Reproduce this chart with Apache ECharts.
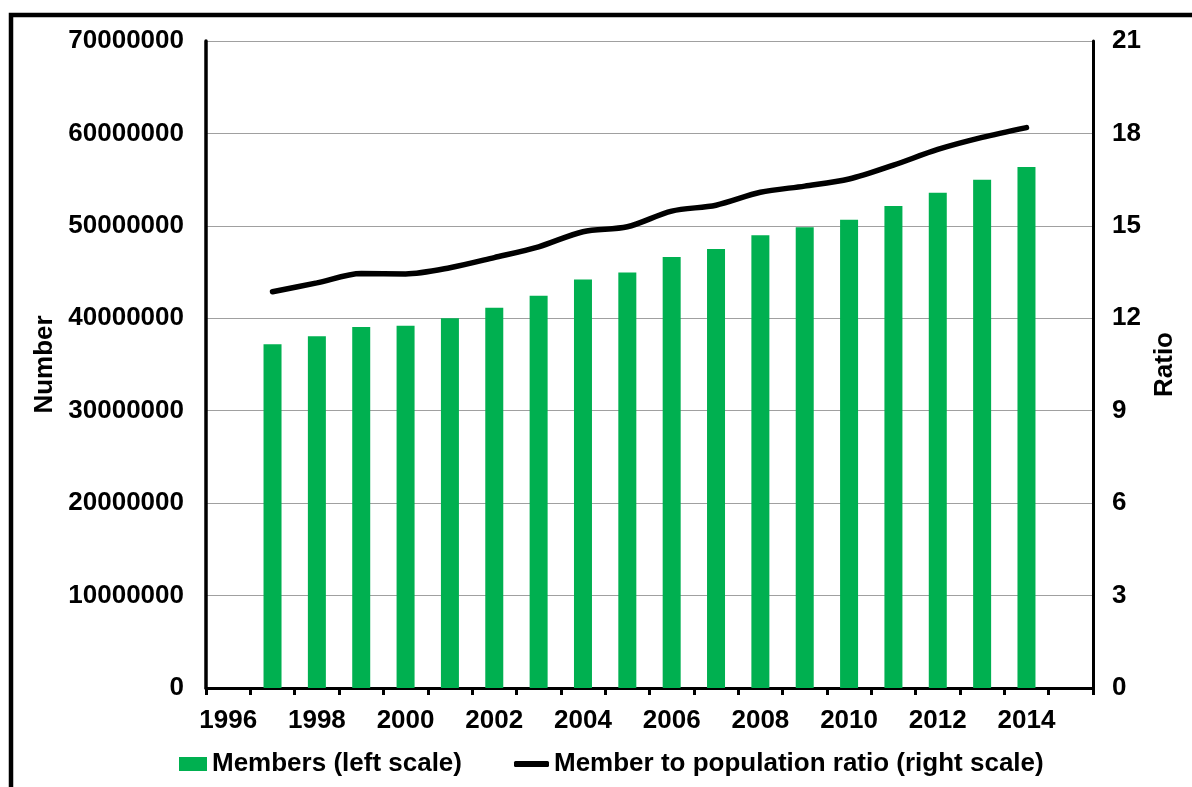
<!DOCTYPE html>
<html>
<head>
<meta charset="utf-8">
<script src="https://cdn.jsdelivr.net/npm/echarts@6/dist/echarts.min.js"></script>
<style>
  html, body { margin: 0; padding: 0; background: #fff; }
  #chart { width: 1192px; height: 787px; }
</style>
</head>
<body>
<div id="chart"></div>
<script>
// Category years on the x axis (one slot per year, labels on even years)
const years = ['1996','1997','1998','1999','2000','2001','2002','2003','2004','2005',
               '2006','2007','2008','2009','2010','2011','2012','2013','2014','2015'];

// Years that have observations
const dataYears = ['1997','1998','1999','2000','2001','2002','2003','2004','2005',
                   '2006','2007','2008','2009','2010','2011','2012','2013','2014'];

// Members (left scale)
const members = [37200000, 38050000, 39050000, 39200000, 40000000, 41150000, 42450000,
                 44200000, 44950000, 46630000, 47500000, 48980000, 49840000, 50670000,
                 52150000, 53590000, 54990000, 56370000];

// Member to population ratio (right scale)
const ratio = [12.86, 13.15, 13.45, 13.44, 13.64, 13.97, 14.32, 14.81, 14.97,
               15.48, 15.67, 16.09, 16.29, 16.52, 16.97, 17.48, 17.87, 18.19];

const FONT = 'Liberation Sans, Arial, sans-serif';
const textBase = { fontFamily: FONT, fontWeight: 'bold', fontSize: 26, color: '#000' };

const chart = echarts.init(document.getElementById('chart'), null, { renderer: 'canvas' });

chart.setOption({
  backgroundColor: '#fff',
  animation: false,
  graphic: [{
    type: 'rect',
    silent: true,
    shape: { x: 11, y: 15, width: 1300, height: 900 },
    style: { fill: 'none', stroke: '#000', lineWidth: 4.5 }
  }],
  grid: { left: 206, right: 99, top: 41, bottom: 99, containLabel: false },
  legend: [{
    data: ['Members (left scale)'],
    left: 179, top: 751, padding: 0,
    icon: 'rect', itemWidth: 28, itemHeight: 14,
    textStyle: textBase,
    selectedMode: false
  }, {
    data: ['Member to population ratio (right scale)'],
    left: 514, top: 751, padding: 0,
    icon: 'roundRect', itemWidth: 35, itemHeight: 6,
    textStyle: textBase,
    selectedMode: false
  }],
  xAxis: {
    type: 'category',
    data: years,
    boundaryGap: true,
    axisLine: { show: true, lineStyle: { color: '#000', width: 3 } },
    axisTick: { show: true, interval: 0, length: 7, lineStyle: { color: '#000', width: 3 } },
    axisLabel: Object.assign({ interval: 1, margin: 20 }, textBase),
    splitLine: { show: false }
  },
  yAxis: [{
    type: 'value',
    min: 0, max: 70000000, interval: 10000000,
    name: 'Number',
    nameLocation: 'middle',
    nameGap: 144,
    nameRotate: 90,
    nameTextStyle: textBase,
    axisLine: { show: true, lineStyle: { color: '#000', width: 3.5 } },
    axisTick: { show: false },
    axisLabel: Object.assign({ margin: 22, formatter: v => String(v) }, textBase),
    splitLine: { show: true, lineStyle: { color: '#a0a0a0', width: 1.2 } }
  }, {
    type: 'value',
    min: 0, max: 21, interval: 3,
    position: 'right',
    name: 'Ratio',
    nameLocation: 'middle',
    nameGap: 56,
    nameRotate: 90,
    nameTextStyle: textBase,
    axisLine: { show: true, lineStyle: { color: '#000', width: 3 } },
    axisTick: { show: false },
    axisLabel: Object.assign({ margin: 19 }, textBase),
    splitLine: { show: false }
  }],
  series: [{
    name: 'Members (left scale)',
    type: 'bar',
    yAxisIndex: 0,
    barWidth: 18,
    itemStyle: { color: '#00b050' },
    data: dataYears.map((y, i) => [y, members[i]])
  }, {
    name: 'Member to population ratio (right scale)',
    type: 'line',
    yAxisIndex: 1,
    smooth: 0.3,
    showSymbol: false,
    symbol: 'none',
    lineStyle: { color: '#000', width: 5.5, cap: 'round' },
    itemStyle: { color: '#000' },
    data: dataYears.map((y, i) => [y, ratio[i]])
  }]
});
</script>
</body>
</html>
